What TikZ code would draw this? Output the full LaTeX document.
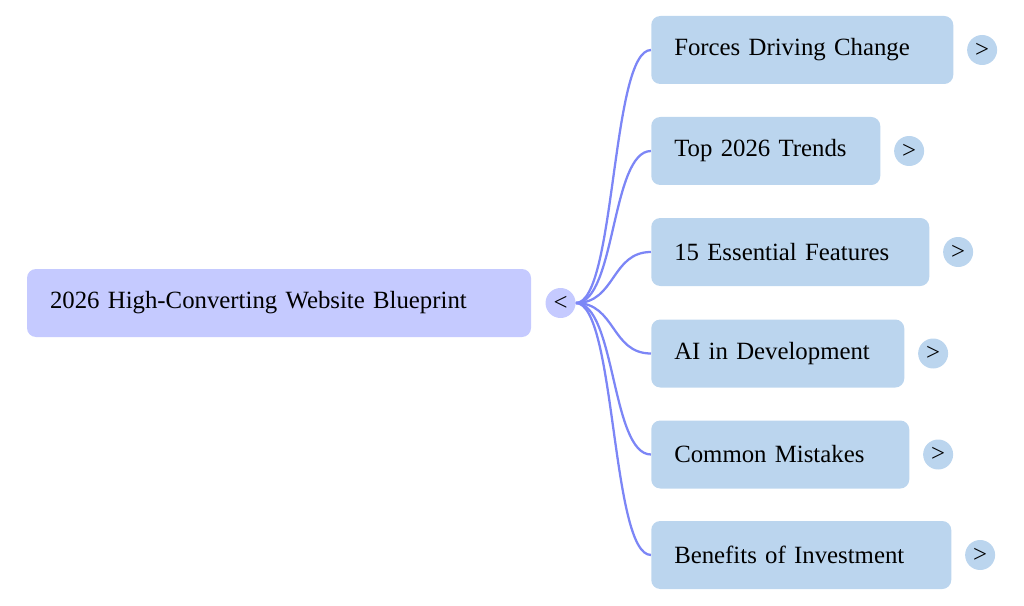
\documentclass[tikz,border=0pt]{standalone}
\usepackage{fontspec}
\setmainfont{Liberation Serif}
\usetikzlibrary{positioning, backgrounds}
\definecolor{rootfill}{HTML}{C5CAFF}
\definecolor{branchfill}{HTML}{BBD5EE}
\definecolor{linkblue}{HTML}{7C86F6}
\tikzset{
    base/.style={font=\fontsize{18.6}{22}\selectfont, text=black},
    root/.style={base, rectangle, rounded corners=6.75pt, fill=rootfill, minimum height=51pt, inner xsep=17.25pt, text width=#1, align=left},
    branch/.style={base, rectangle, rounded corners=6.75pt, fill=branchfill, minimum height=51pt, inner xsep=17.25pt, text width=#1, align=left, anchor=west},
    toggle/.style={base, circle, minimum size=22.5pt, inner sep=0pt, fill=#1},
    link/.style={line width=1.7pt, color=linkblue}
}

\begin{document}
\begin{tikzpicture}[x=0.75pt, y=-0.75pt]
        \useasboundingbox (0,0) rectangle (1024,606);

        % Root
        \node (root) [root=343.5pt] at (279,303) {2026 High-Converting Website Blueprint};
        \node (rtog) [toggle=rootfill, right=10.5pt of root] {<};

        % Branches
        \node (forces) [branch=192pt] at (651,50) {Forces Driving Change};
        \node (trends) [branch=137.25pt] at (651,151) {Top 2026 Trends};
        \node (features) [branch=174pt] at (651,252) {15 Essential Features};
        \node (ai) [branch=155.25pt] at (651,353.5) {AI in Development};
        \node (mistakes) [branch=159pt] at (651,454.5) {Common Mistakes};
        \node (benefits) [branch=190.5pt] at (651,555) {Benefits of Investment};

        \node (tforces) [toggle=branchfill, right=10pt of forces] {>};
        \node (ttrends) [toggle=branchfill, right=10pt of trends] {>};
        \node (tfeatures) [toggle=branchfill, right=10pt of features] {>};
        \node (tai) [toggle=branchfill, right=10pt of ai] {>};
        \node (tmistakes) [toggle=branchfill, right=10pt of mistakes] {>};
        \node (tbenefits) [toggle=branchfill, right=10pt of benefits] {>};

        \begin{scope}[on background layer]
            \draw [link] (rtog.east) .. controls +(30pt,0) and +(-30pt,0) .. (forces.west);
            \draw [link] (rtog.east) .. controls +(30pt,0) and +(-30pt,0) .. (trends.west);
            \draw [link] (rtog.east) .. controls +(30pt,0) and +(-30pt,0) .. (features.west);
            \draw [link] (rtog.east) .. controls +(30pt,0) and +(-30pt,0) .. (ai.west);
            \draw [link] (rtog.east) .. controls +(30pt,0) and +(-30pt,0) .. (mistakes.west);
            \draw [link] (rtog.east) .. controls +(30pt,0) and +(-30pt,0) .. (benefits.west);
        \end{scope}
    \end{tikzpicture}
\end{document}
